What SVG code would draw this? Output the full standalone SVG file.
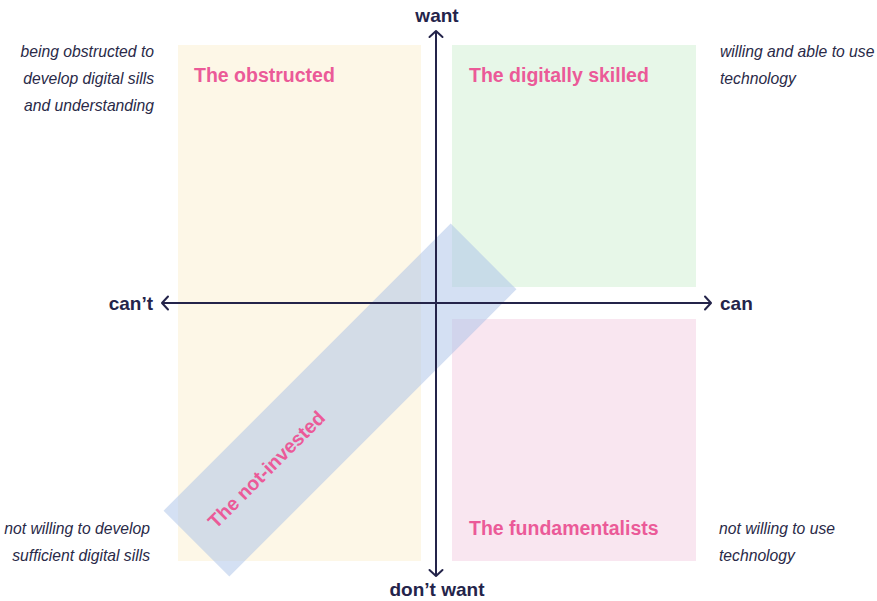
<svg xmlns="http://www.w3.org/2000/svg" width="877" height="601" viewBox="0 0 877 601">
  <defs>
    <marker id="chev" viewBox="-8 -8 10 16" markerWidth="10" markerHeight="16" refX="0" refY="0" orient="auto" markerUnits="userSpaceOnUse">
      <path d="M-6,-6.5 L0,0 L-6,6.5" fill="none" stroke="#24244a" stroke-width="2" stroke-linecap="round" stroke-linejoin="round"/>
    </marker>
    <style>
      .title { font-family: "Liberation Sans", Arial, sans-serif; font-weight: bold; font-size: 19.5px; fill: #eb5a98; }
      .desc { font-family: "Liberation Sans", Arial, sans-serif; font-style: italic; font-size: 15.7px; fill: #2a2a48; }
      .axl { font-family: "Liberation Sans", Arial, sans-serif; font-weight: bold; font-size: 19px; fill: #24244a; }
      .axis { stroke: #24244a; stroke-width: 2; fill: none; marker-end: url(#chev); }
    </style>
  </defs>
  <rect width="877" height="601" fill="#ffffff"/>

  <g id="obstructed">
    <rect x="178" y="45" width="243" height="516" fill="#fdf7e7"/>
    <text class="title" x="194" y="82">The obstructed</text>
  </g>
  <g id="digitally-skilled">
    <rect x="452" y="45" width="244" height="242" fill="#e7f7e8"/>
    <text class="title" x="469" y="82">The digitally skilled</text>
  </g>
  <g id="fundamentalists">
    <rect x="452" y="319" width="244" height="242" fill="#f9e6f0"/>
    <text class="title" x="469" y="535">The fundamentalists</text>
  </g>
  <g id="not-invested">
    <rect x="137" y="353.5" width="406" height="93" transform="rotate(-45 340 400)" fill="#a9c1e8" fill-opacity="0.5"/>
    <text class="title" x="267" y="476" text-anchor="middle" transform="rotate(-45 267 470)">The not-invested</text>
  </g>

  <g id="connectors">
    <line class="axis" x1="436" y1="303" x2="436" y2="31"/>
    <line class="axis" x1="436" y1="303" x2="436" y2="576"/>
    <line class="axis" x1="436" y1="303" x2="162" y2="303"/>
    <line class="axis" x1="436" y1="303" x2="711" y2="303"/>
  </g>

  <g id="axis-labels">
    <text class="axl" x="437" y="22" text-anchor="middle">want</text>
    <text class="axl" x="437" y="596" text-anchor="middle">don’t want</text>
    <text class="axl" x="153" y="310" text-anchor="end">can’t</text>
    <text class="axl" x="720" y="310">can</text>
  </g>

  <g id="desc-obstructed">
    <text class="desc" x="154" y="57" text-anchor="end">being obstructed to</text>
    <text class="desc" x="154" y="84" text-anchor="end">develop digital sills</text>
    <text class="desc" x="154" y="111" text-anchor="end">and understanding</text>
  </g>
  <g id="desc-skilled">
    <text class="desc" x="720" y="57">willing and able to use</text>
    <text class="desc" x="720" y="84">technology</text>
  </g>
  <g id="desc-not-invested">
    <text class="desc" x="150" y="534" text-anchor="end">not willing to develop</text>
    <text class="desc" x="150" y="561" text-anchor="end">sufficient digital sills</text>
  </g>
  <g id="desc-fundamentalists">
    <text class="desc" x="719" y="534">not willing to use</text>
    <text class="desc" x="719" y="561">technology</text>
  </g>
</svg>
